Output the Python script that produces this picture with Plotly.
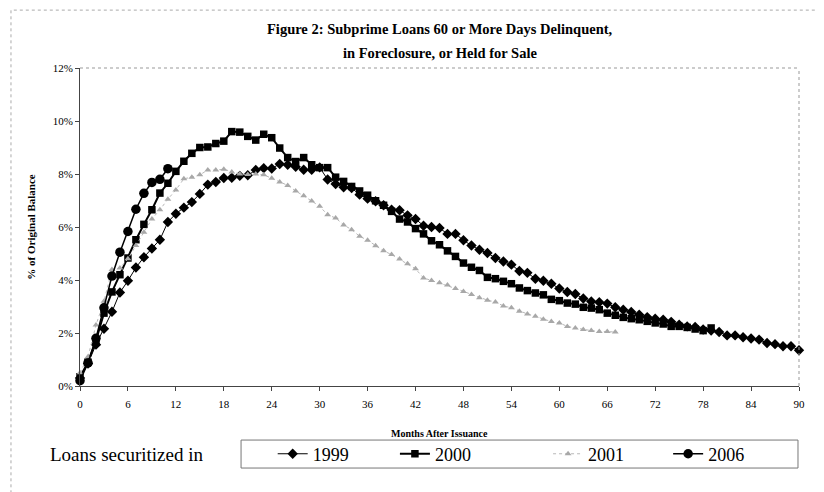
import plotly.graph_objects as go

months_1999 = list(range(0, 91))
vals_1999 = [0.30, 0.85, 1.56, 2.16, 2.80, 3.53, 3.97, 4.47, 4.86, 5.19,
             5.52, 6.19, 6.50, 6.73, 6.94, 7.25, 7.60, 7.70, 7.85, 7.86,
             7.93, 7.95, 8.15, 8.22, 8.21, 8.38, 8.35, 8.27, 8.16, 8.16,
             8.25, 7.79, 7.62, 7.50, 7.47, 7.22, 7.07, 6.97, 6.82, 6.65,
             6.63, 6.44, 6.30, 6.05, 6.00, 5.96, 5.74, 5.74, 5.50, 5.30,
             5.14, 5.02, 4.83, 4.70, 4.58, 4.34, 4.27, 4.05, 3.97, 3.86,
             3.68, 3.55, 3.47, 3.30, 3.19, 3.16, 3.11, 2.97, 2.88, 2.79,
             2.69, 2.60, 2.54, 2.50, 2.42, 2.31, 2.25, 2.23, 2.13, 2.09,
             2.04, 1.91, 1.91, 1.84, 1.79, 1.75, 1.62, 1.58, 1.50, 1.50,
             1.35]

months_2000 = list(range(0, 80))
vals_2000 = [0.35, 0.90, 1.72, 2.75, 3.55, 4.20, 4.83, 5.52, 6.10, 6.65,
             7.28, 7.65, 8.10, 8.48, 8.78, 9.00, 9.02, 9.15, 9.24, 9.60,
             9.58, 9.42, 9.28, 9.50, 9.37, 8.98, 8.62, 8.47, 8.62, 8.35,
             8.24, 8.24, 7.88, 7.72, 7.53, 7.36, 7.20, 6.99, 6.82, 6.59,
             6.30, 6.19, 5.94, 5.74, 5.48, 5.33, 5.10, 4.89, 4.64, 4.48,
             4.36, 4.10, 4.05, 3.95, 3.86, 3.70, 3.60, 3.51, 3.44, 3.27,
             3.22, 3.13, 3.09, 2.97, 2.94, 2.88, 2.75, 2.67, 2.59, 2.54,
             2.50, 2.44, 2.38, 2.34, 2.25, 2.25, 2.21, 2.15, 2.09, 2.19]

months_2001 = list(range(0, 68))
vals_2001 = [0.50, 1.10, 2.30, 3.20, 4.40, 4.45, 4.80, 5.30, 5.80, 6.30,
             6.65, 7.05, 7.40, 7.82, 7.88, 7.97, 8.15, 8.15, 8.18, 8.08,
             8.00, 7.98, 8.00, 7.97, 7.84, 7.70, 7.57, 7.36, 7.18, 6.98,
             6.78, 6.46, 6.34, 6.08, 5.90, 5.65, 5.50, 5.29, 5.10, 4.96,
             4.79, 4.61, 4.42, 4.08, 3.98, 3.90, 3.81, 3.68, 3.57, 3.45,
             3.33, 3.24, 3.17, 3.02, 2.95, 2.82, 2.72, 2.63, 2.52, 2.43,
             2.38, 2.25, 2.19, 2.13, 2.09, 2.06, 2.06, 2.04]

months_2006 = list(range(0, 12))
vals_2006 = [0.20, 0.87, 1.80, 2.95, 4.15, 5.05, 5.83, 6.67, 7.27, 7.68,
             7.80, 8.20]

x_ticks = list(range(0, 91, 6))
y_ticks = [0, 2, 4, 6, 8, 10, 12]
y_tick_text = [f"{v}%" for v in y_ticks]

FONT = "Liberation Serif, Times New Roman, serif"

fig = go.Figure()
fig.add_trace(go.Scatter(
    x=months_1999, y=vals_1999, name="1999", mode="lines+markers",
    line=dict(color="black", width=1),
    marker=dict(symbol="diamond", size=8, color="black"),
    cliponaxis=False, legend="legend"))
fig.add_trace(go.Scatter(
    x=months_2000, y=vals_2000, name="2000", mode="lines+markers",
    line=dict(color="black", width=2),
    marker=dict(symbol="square", size=7.5, color="black"),
    cliponaxis=False, legend="legend2"))
fig.add_trace(go.Scatter(
    x=months_2001, y=vals_2001, name="2001", mode="lines+markers",
    line=dict(color="#b8b8b8", width=1, dash="dot"),
    marker=dict(symbol="triangle-up", size=6, color="#a8a8a8"),
    cliponaxis=False, legend="legend3"))
fig.add_trace(go.Scatter(
    x=months_2006, y=vals_2006, name="2006", mode="lines+markers",
    line=dict(color="black", width=1.5),
    marker=dict(symbol="circle", size=9.5, color="black"),
    cliponaxis=False, legend="legend4"))

leg_common = dict(orientation="h", yanchor="middle", y=-0.214,
                  xanchor="left", bgcolor="rgba(0,0,0,0)", borderwidth=0,
                  font=dict(family=FONT, size=18, color="black"))

fig.update_layout(
    width=824, height=492,
    margin=dict(l=72, r=33, t=60, b=114, autoexpand=False),
    paper_bgcolor="white", plot_bgcolor="white",
    font=dict(family=FONT, color="black"),
    xaxis=dict(
        range=[0, 90], tickvals=x_ticks, ticks="outside", ticklen=4,
        tickcolor="#444", ticklabelstandoff=4,
        tickfont=dict(family=FONT, size=11), showgrid=False, zeroline=False,
        showline=True, linecolor="#444", linewidth=1, automargin=False),
    yaxis=dict(
        range=[0, 12], tickvals=y_ticks, ticktext=y_tick_text,
        ticks="outside", ticklen=4, tickcolor="#444",
        tickfont=dict(family=FONT, size=11), showgrid=False,
        zeroline=False, showline=True, linecolor="#444", linewidth=1,
        automargin=False,
        title=dict(text="<b>% of Original Balance</b>",
                   font=dict(family=FONT, size=11), standoff=14)),
    legend=dict(leg_common, x=0.268),
    legend2=dict(leg_common, x=0.438),
    legend3=dict(leg_common, x=0.651),
    legend4=dict(leg_common, x=0.818),
    showlegend=True,
)

# title lines
fig.add_annotation(text="<b>Figure 2: Subprime Loans 60 or More Days Delinquent,</b>",
                   xref="paper", yref="paper", x=0.5, y=1.122,
                   xanchor="center", yanchor="middle", showarrow=False,
                   font=dict(family=FONT, size=14.5))
fig.add_annotation(text="<b>in Foreclosure, or Held for Sale</b>",
                   xref="paper", yref="paper", x=0.5, y=1.046,
                   xanchor="center", yanchor="middle", showarrow=False,
                   font=dict(family=FONT, size=14.5))
# x-axis title
fig.add_annotation(text="<b>Months After Issuance</b>", xref="paper", yref="paper",
                   x=0.5, y=-0.148, xanchor="center", yanchor="middle",
                   showarrow=False, font=dict(family=FONT, size=10))
# legend label
fig.add_annotation(text="Loans securitized in", xref="paper", yref="paper",
                   x=-0.0445, y=-0.214, xanchor="left", yanchor="middle",
                   showarrow=False, font=dict(family=FONT, size=19))

# plot-area dotted top/right border
fig.add_shape(type="line", xref="paper", yref="paper", x0=0, x1=1, y0=1, y1=1,
              line=dict(color="#999", width=1, dash="dot"))
fig.add_shape(type="line", xref="paper", yref="paper", x0=1, x1=1, y0=0, y1=1,
              line=dict(color="#999", width=1, dash="dot"))
# legend box
fig.add_shape(type="rect", xref="paper", yref="paper",
              x0=0.224, x1=0.9986, y0=-0.258, y1=-0.170,
              line=dict(color="#777", width=1))
# outer frame
fig.add_shape(type="rect", xref="paper", yref="paper",
              x0=-0.096, x1=1.0417, y0=-0.352, y1=1.182,
              line=dict(color="#aaa", width=1, dash="dot"))

fig.write_html("out.html")
